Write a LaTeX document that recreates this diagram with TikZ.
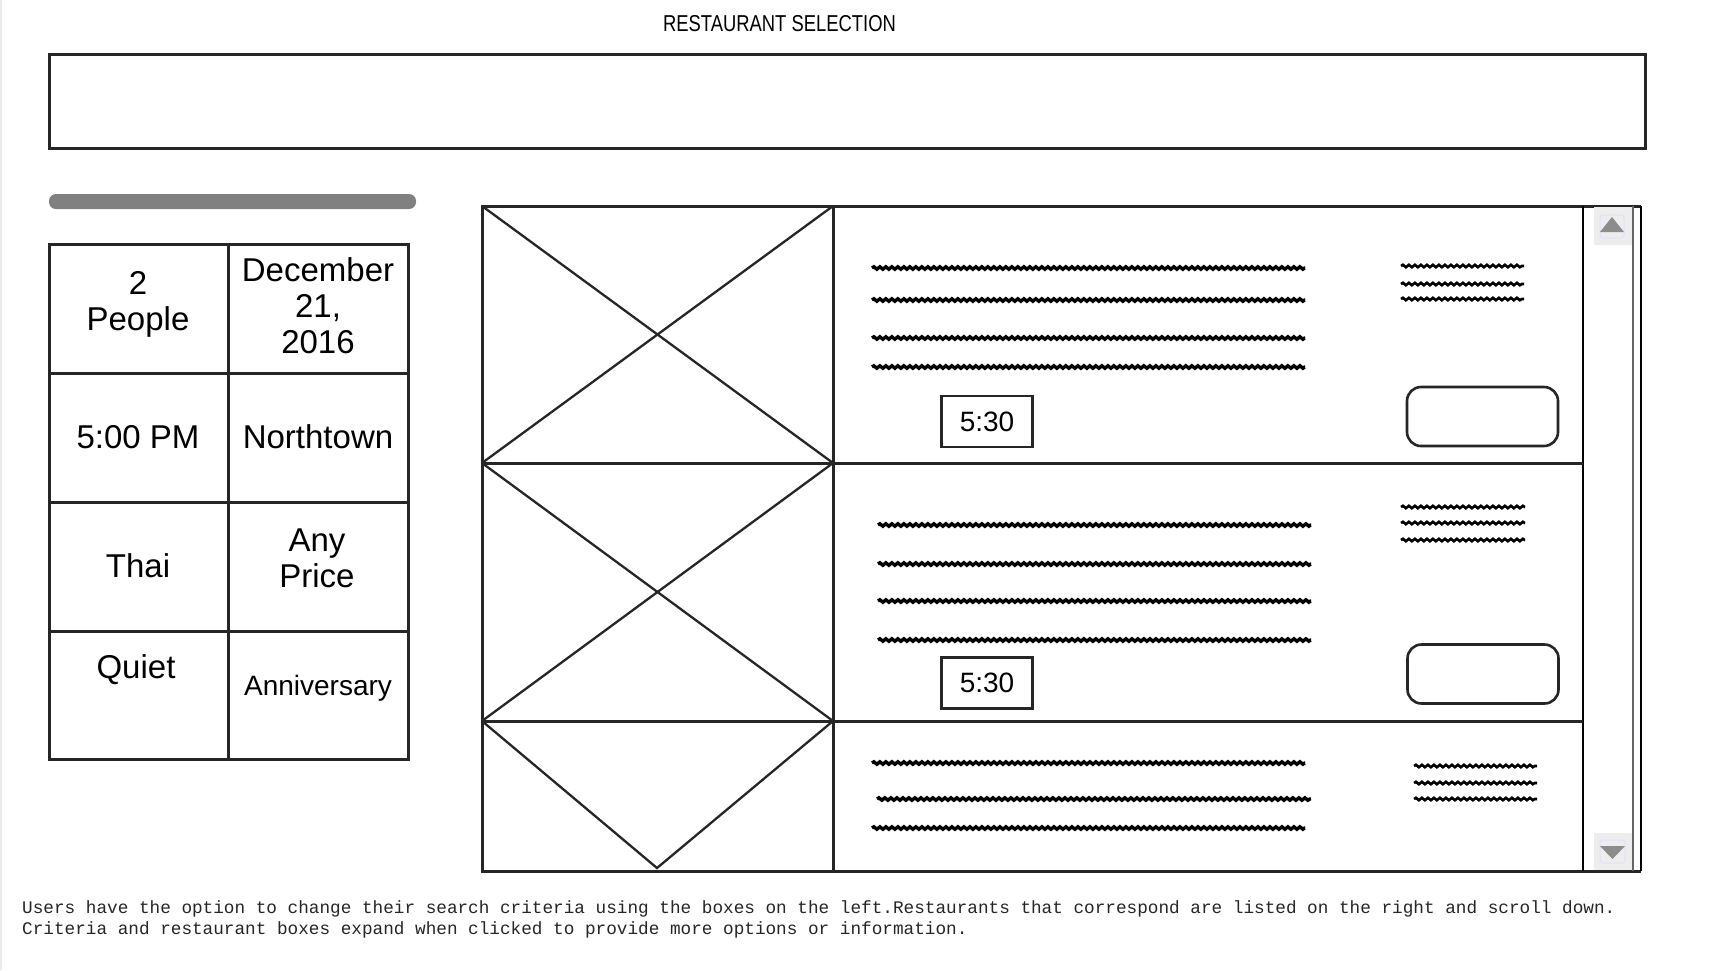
\documentclass[tikz,border=0pt]{standalone}
\usepackage{fontspec}
\usepackage{graphicx}
\setmainfont{Liberation Sans}
\newfontfamily\notefont{Liberation Mono}
\usetikzlibrary{decorations.pathmorphing}

\begin{document}
\begin{tikzpicture}[x=1pt,y=-1pt,
    box/.style ={draw=black!85, line width=3pt},
    cross/.style ={draw=black!85, line width=2.3pt},
    squiggle/.style ={line width=3.4pt, decorate,
      decoration={snake, segment length=6pt, amplitude=1.2pt}},
    minisquiggle/.style ={squiggle, line width=2.6pt},
    criteria/.style ={align=center, font=\fontsize{33}{36}\selectfont},
    timeslot/.style ={draw=black!85, line width=2.4pt, minimum width=91pt,
      minimum height=51pt, font=\fontsize{28}{30}\selectfont},
    reserve/.style ={draw=black!85, line width=2.6pt, rounded corners=14pt,
      minimum width=151pt, minimum height=59pt},
    note/.style ={anchor=base west, inner sep=0pt, text=black!85,
      font=\notefont\fontsize{17.7}{21}\selectfont}]
   \useasboundingbox (0,0) rectangle (1720,970);
   \fill[white] (0,0) rectangle (1720,970);
   \fill[black!8] (0,0) rectangle (2,970);

   \node (title) at (779.5,31) [anchor=base, font=\fontsize{23}{25}\selectfont]
     {\scalebox{0.8}[1]{RESTAURANT SELECTION}};
   \draw[box] (49,54) rectangle (1645,148);
   \fill[black!50, rounded corners=7pt] (49,194) rectangle (416,209);

   \draw[box] (49,244) rectangle (408,759);
   \draw[box] (228,244) -- (228,759);
   \draw[box] (49,373) -- (408,373);
   \draw[box] (49,502) -- (408,502);
   \draw[box] (49,631) -- (408,631);
   \node[criteria] (guests) at (138,304) {2\\People};
   \node[criteria] (date) at (318,306) {December\\21,\\2016};
   \node[criteria] (hour) at (138,437) {5:00 PM};
   \node[criteria] (area) at (318,437) {Northtown};
   \node[criteria] (cuisine) at (138,566) {Thai};
   \node[criteria] (price) at (317,558) {Any\\Price};
   \node[criteria] (mood) at (136,670) {Quiet};
   \node[criteria, font=\fontsize{28}{30}\selectfont] (occasion) at (318,688) {Anniversary};

   \draw[box] (1641,206) -- (482,206) -- (482,871) -- (1641,871);
   \draw[draw=black, line width=1.6pt] (1641,206) -- (1641,871);
   \draw[draw=black!60, line width=1.2pt] (1633,206) -- (1633,871);
   \draw[draw=black, line width=1.8pt] (1583,206) -- (1583,871);
   \draw[box] (833,206) -- (833,871);
   \draw[box] (482,463) -- (1583,463);
   \draw[box] (482,721) -- (1583,721);

   \draw[cross] (482,206) -- (833,463);
   \draw[cross] (482,463) -- (833,206);
   \draw[cross] (482,463) -- (833,721);
   \draw[cross] (482,721) -- (833,463);
   \draw[cross] (482,721) -- (657,868) -- (833,721);

   \draw[squiggle] (872,268) -- (1305,268);
   \draw[squiggle] (872,300) -- (1305,300);
   \draw[squiggle] (872,338) -- (1305,338);
   \draw[squiggle] (872,367) -- (1305,367);
   \draw[minisquiggle] (1401,266) -- (1524,266);
   \draw[minisquiggle] (1401,284) -- (1524,284);
   \draw[minisquiggle] (1401,299) -- (1524,299);
   \node[timeslot] (slotA) at (987,421.5) {5:30};
   \node[reserve] (bookA) at (1482.5,416.5) {};

   \draw[squiggle] (878,525) -- (1311,525);
   \draw[squiggle] (878,564) -- (1311,564);
   \draw[squiggle] (878,601) -- (1311,601);
   \draw[squiggle] (878,640) -- (1311,640);
   \draw[minisquiggle] (1401,507) -- (1525,507);
   \draw[minisquiggle] (1401,523) -- (1525,523);
   \draw[minisquiggle] (1401,540) -- (1525,540);
   \node[timeslot] (slotB) at (987,683) {5:30};
   \node[reserve] (bookB) at (1483,674) {};

   \draw[squiggle] (872,763) -- (1305,763);
   \draw[squiggle] (877,799) -- (1311,799);
   \draw[squiggle] (872,828) -- (1305,828);
   \draw[minisquiggle] (1414,766) -- (1537,766);
   \draw[minisquiggle] (1414,783) -- (1537,783);
   \draw[minisquiggle] (1414,799) -- (1537,799);

   \fill[black!7] (1594,207) rectangle (1632,245);
   \draw[blue!12, line width=1pt, rounded corners=3pt] (1600,215) rectangle (1624,238);
   \fill[black!45] (1600,232) -- (1624,232) -- (1612,217) -- cycle;
   \fill[black!7] (1594,833) rectangle (1632,870);
   \draw[blue!12, line width=1pt, rounded corners=3pt] (1600,840) rectangle (1625,863);
   \fill[black!45] (1600,846) -- (1625,846) -- (1612.5,859) -- cycle;

   \node[note] (noteA) at (22,913) {Users have the option to change their search criteria using the boxes on the left.Restaurants that correspond are listed on the right and scroll down.};
   \node[note] (noteB) at (22,934) {Criteria and restaurant boxes expand when clicked to provide more options or information.};
 \end{tikzpicture}
\end{document}
